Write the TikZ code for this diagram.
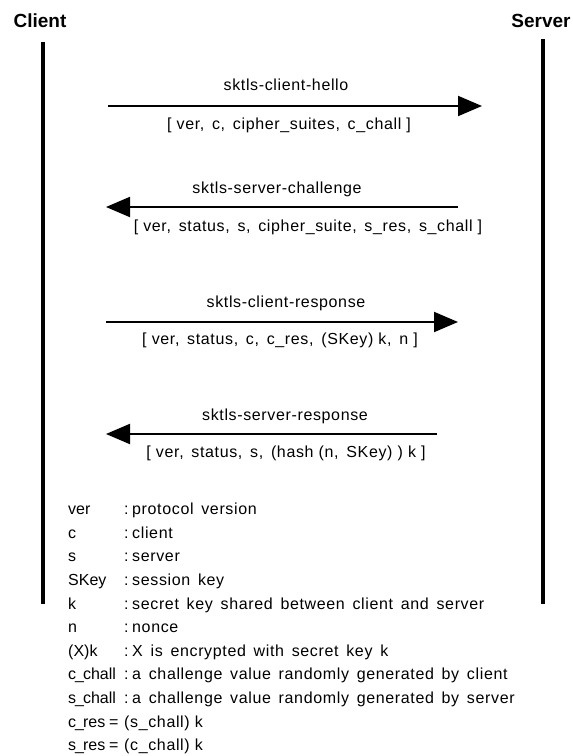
\documentclass[tikz,border=0pt]{standalone}
\usepackage{fontspec}
\setmainfont{Liberation Sans}[LetterSpace=4]
\newfontfamily\plainfont{Liberation Sans}
\newcommand{\nus}{\kern-1pt\_\kern-1pt}
\usetikzlibrary{arrows.meta}
\tikzset{
  life/.style={line width=4pt},
  msg/.style={line width=2pt, -{Triangle[length=24pt,width=20pt]}},
  txt/.style={inner sep=0pt, font=\fontsize{16}{19}\selectfont},
  ttl/.style={inner sep=0pt, font=\plainfont\fontsize{19}{22}\selectfont\bfseries},
  key/.style={txt, anchor=mid west},
  keyname/.style={key, font=\plainfont\fontsize{16}{19}\selectfont},
}
\begin{document}
\begin{tikzpicture}[x=1pt,y=-1pt]
\useasboundingbox (0,0) rectangle (573,756);
% titles
\node[ttl] (client) at (40,21) {Client};
\node[ttl] (server) at (541,21) {Server};
% lifelines
\coordinate (ctop) at (43,42);
\coordinate (cbot) at (43,604);
\coordinate (stop) at (543,39);
\coordinate (sbot) at (543,604);
\draw[life] (ctop) -- (cbot);
\draw[life] (stop) -- (sbot);
% message 1
\coordinate (m1a) at (108,106);
\coordinate (m1b) at (482,106);
\draw[msg] (m1a) -- (m1b);
\node[txt, anchor=mid] (l1) at (286,88) {sktls-client-hello};
\node[txt, anchor=mid] (p1) at (289,127) {[ ver, \,c, \,cipher\_suites, \,c\_chall ]};
% message 2
\coordinate (m2a) at (458,207);
\coordinate (m2b) at (106,207);
\draw[msg] (m2a) -- (m2b);
\node[txt, anchor=mid] (l2) at (277,191) {sktls-server-challenge};
\node[txt, anchor=mid] (p2) at (308,229) {[ ver, \,status, \,s, \,cipher\_suite, \,s\_res, \,s\_chall ]};
% message 3
\coordinate (m3a) at (106,322);
\coordinate (m3b) at (458,322);
\draw[msg] (m3a) -- (m3b);
\node[txt, anchor=mid] (l3) at (286,305) {sktls-client-response};
\node[txt, anchor=mid] (p3) at (280,342) {[ ver, \,status, \,c, \,c\_res, \,(SKey) k, \,n ]};
% message 4
\coordinate (m4a) at (437,434);
\coordinate (m4b) at (106,434);
\draw[msg] (m4a) -- (m4b);
\node[txt, anchor=mid] (l4) at (285,418) {sktls-server-response};
\node[txt, anchor=mid] (p4) at (286,455) {[ ver, \,status, \,s, \,(hash (n, \,SKey) ) k ]};
% legend
\foreach \k/\d [count=\i from 0] in {
  ver/protocol \,version,
  c/client,
  s/server,
  SKey/session \,key,
  k/secret \,key \,shared \,between \,client \,and \,server,
  n/nonce,
  (X)k/X \,is \,encrypted \,with \,secret \,key \,k,
  c\nus chall/a \,challenge \,value \,randomly \,generated \,by \,client,
  s\nus chall/a \,challenge \,value \,randomly \,generated \,by \,server}
{
  \node[keyname] (k\i) at (68,512+23.6*\i) {\k};
  \node[key] (s\i) at (124,512+23.6*\i) {:};
  \node[key] (d\i) at (132,512+23.6*\i) {\d};
}
\foreach \k/\d [count=\i from 9] in {
  c\nus res/(s\_chall) k,
  s\nus res/(c\_chall) k}
{
  \node[keyname] (k\i) at (68,512+23.6*\i) {\k};
  \node[key] (s\i) at (109,512+23.6*\i) {=};
  \node[key] (d\i) at (124,512+23.6*\i) {\d};
}
\end{tikzpicture}
\end{document}
